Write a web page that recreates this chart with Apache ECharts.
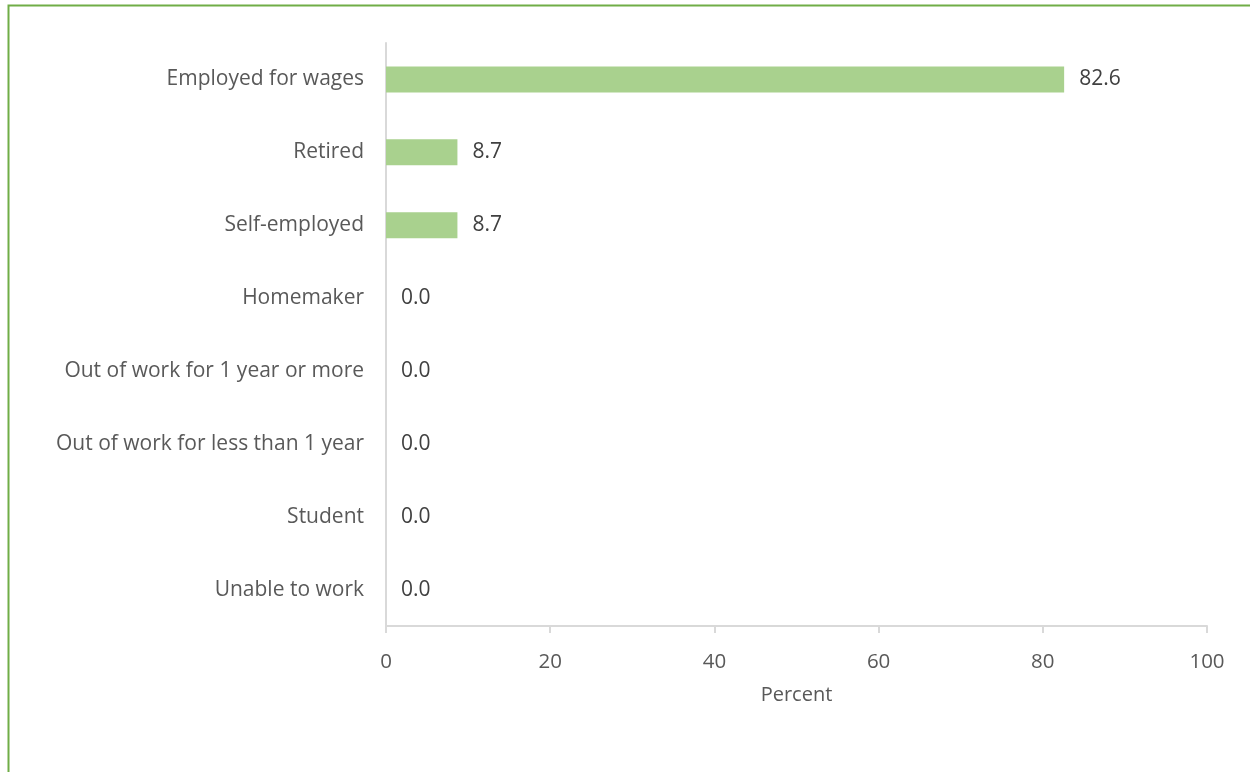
<!DOCTYPE html>
<html><head><meta charset="utf-8">
<script src="https://cdn.jsdelivr.net/npm/echarts@6/dist/echarts.min.js"></script>
<style>html,body{margin:0;padding:0;background:#fff}#c{width:1250px;height:772px}</style>
</head><body><div id="c"></div>
<script>
const categories = ["Employed for wages","Retired","Self-employed","Homemaker","Out of work for 1 year or more","Out of work for less than 1 year","Student","Unable to work"];
const values = [82.6, 8.7, 8.7, 0.0, 0.0, 0.0, 0.0, 0.0];
const xTicks = [0, 20, 40, 60, 80, 100];
const FONT = "Open Sans";
const chart = echarts.init(document.getElementById('c'), null, {renderer:'canvas'});
chart.setOption({
  animation:false,
  backgroundColor:'#fff',
  graphic:[{type:'rect',shape:{x:8.5,y:5.5,width:1300,height:900},style:{fill:'none',stroke:'#70ad47',lineWidth:2},silent:true}],
  grid:{left:386,right:43,top:43,bottom:146,containLabel:false},
  xAxis:{type:'value',min:xTicks[0],max:xTicks[xTicks.length-1],interval:20,
    name:'Percent',nameLocation:'middle',nameGap:59,
    nameTextStyle:{color:'#595959',fontSize:20,fontFamily:FONT},
    axisLine:{show:true,lineStyle:{color:'#d9d9d9',width:2}},
    axisTick:{show:true,length:7,lineStyle:{color:'#d9d9d9',width:2}},
    splitLine:{show:false},
    axisLabel:{color:'#595959',fontSize:20.5,fontFamily:FONT,margin:26}},
  yAxis:{type:'category',data:categories,inverse:true,
    axisLine:{show:true,lineStyle:{color:'#d9d9d9',width:2}},
    axisTick:{show:false},
    axisLabel:{color:'#595959',fontSize:21,fontFamily:FONT,margin:22}},
  series:[{type:'bar',data:values,barWidth:26,
    itemStyle:{color:'#a9d18e'},
    label:{show:true,position:'right',distance:15,color:'#404040',fontSize:21,fontFamily:FONT,
      formatter:p=>p.value.toFixed(1)}}]
});
</script></body></html>
